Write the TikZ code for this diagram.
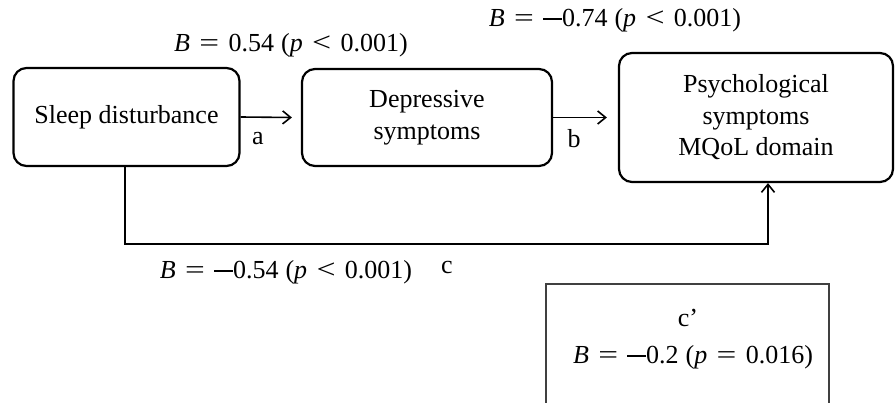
\documentclass[tikz,border=0pt]{standalone}
\usepackage{fontspec}
\setmainfont{Liberation Serif}
\usetikzlibrary{arrows.meta}
\newcommand{\gp}{\hspace{0.36em}}
\newcommand{\ws}{\hspace{0.27em}}
\newcommand{\mns}{\rule[0.24em]{0.72em}{0.075em}}
\newcommand{\eqs}{\scalebox{1.35}[1]{=}}
\newcommand{\lts}{\scalebox{1.3}[1.05]{<}}
\begin{document}
\begin{tikzpicture}[x=1pt,y=-1pt,
  box/.style={draw,line width=2.2pt,rounded corners=13pt,align=center,inner sep=0pt},
  lbl/.style={inner sep=0pt,anchor=center},
  conn/.style={line width=1.6pt,-{Straight Barb[length=8pt,width=13pt,line width=1.6pt]}},
  every node/.style={font=\fontsize{26}{31.5}\selectfont}]
\useasboundingbox (0,0) rectangle (896,403);
\clip (0,0) rectangle (896,403);
\fill[white] (0,0) rectangle (896,403);
\node[box,minimum width=226pt,minimum height=98pt] (sleep) at (126.5,117) {Sleep disturbance};
\node[box,minimum width=250pt,minimum height=97pt] (dep) at (427,117.5) {Depressive\\symptoms};
\node[box,minimum width=274pt,minimum height=129pt] (psy) at (756,117.5) {Psychological\\symptoms\\MQoL domain};
\draw[conn] (sleep.east) -- ([xshift=-9pt]dep.west);
\draw[conn] (dep.east) -- ([xshift=-11pt]psy.west);
\coordinate (c1) at (125,244);
\coordinate (c2) at (768,244);
\draw[conn] (sleep.south -| c1) -- (c1) -- (c2) -- (psy.south -| c2);
\node[lbl] (la) at (258,139) {a};
\node[lbl] (lb) at (574,139) {b};
\node[lbl] (ta) at (291,45) {\textit{B}\gp\eqs\gp0.54\ws(\textit{p}\gp\lts\gp0.001)};
\node[lbl] (tb) at (615,20) {\textit{B}\gp\eqs\gp\mns0.74\ws(\textit{p}\gp\lts\gp0.001)};
\node[lbl] (tc) at (286,272) {\textit{B}\gp\eqs\gp\mns0.54\ws(\textit{p}\gp\lts\gp0.001)};
\node[lbl] (lc) at (447,268) {c};
\draw[line width=1.2pt,draw=black!75] (546,420) -- (546,284) -- (829,284) -- (829,420);
\node[lbl] (cp) at (688,318) {c’};
\node[lbl] (tcp) at (693,357) {\textit{B}\gp\eqs\gp\mns0.2\ws(\textit{p}\gp\eqs\gp0.016)};
\end{tikzpicture}
\end{document}
